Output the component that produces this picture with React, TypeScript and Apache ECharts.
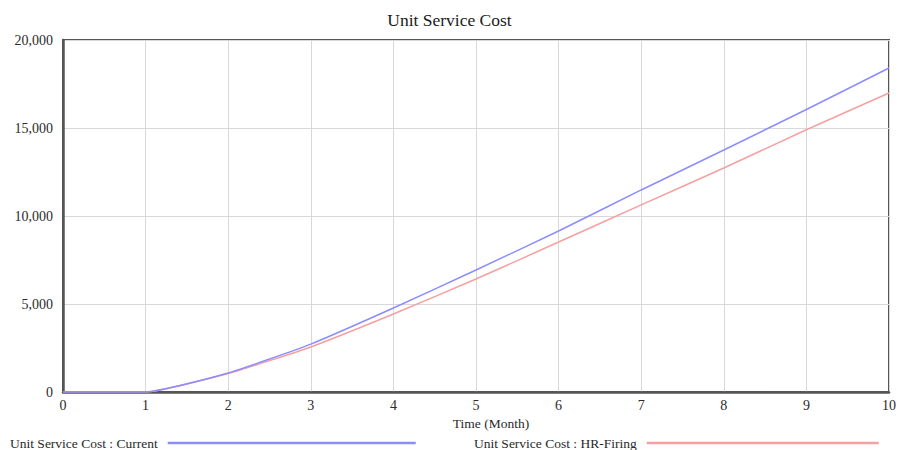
import React, { useEffect, useRef } from "react";
import * as echarts from "echarts";

const months = [0, 1, 2, 3, 4, 5, 6, 7, 8, 9, 10];
const currentCost = [0, 0, 1080, 2720, 4770, 6930, 9150, 11480, 13750, 16050, 18410];
const hrFiringCost = [0, 0, 1050, 2560, 4430, 6420, 8520, 10630, 12730, 14900, 16990];
const yTicks = [0, 5000, 10000, 15000, 20000];

const SERIF = "'Liberation Serif', 'DejaVu Serif', serif";

export default function App() {
  const ref = useRef<HTMLDivElement>(null);
  useEffect(() => {
    if (!ref.current) return;
    const chart = echarts.init(ref.current, undefined, { renderer: "svg" });
    const legendText = { fontFamily: SERIF, fontSize: 13.5, color: "#2a2a2a", padding: [0, 5, 0, 0] };
    chart.setOption({
      animation: false,
      backgroundColor: "#ffffff",
      title: {
        text: "Unit Service Cost",
        left: "center",
        top: 6,
        textStyle: { fontFamily: SERIF, fontSize: 17.5, fontWeight: "normal", color: "#1a1a1a" },
      },
      legend: [
        {
          data: ["Unit Service Cost : Current"],
          left: 5,
          top: 431,
          align: "right",
          itemWidth: 248,
          itemHeight: 10,
          icon: "path://M0,4.5 L100,4.5 L100,5.5 L0,5.5 Z",
          textStyle: legendText,
        },
        {
          data: ["Unit Service Cost : HR-Firing"],
          left: 469,
          top: 431,
          align: "right",
          itemWidth: 232,
          itemHeight: 10,
          icon: "path://M0,4.5 L100,4.5 L100,5.5 L0,5.5 Z",
          textStyle: legendText,
        },
      ],
      grid: {
        left: 63,
        right: 7,
        top: 40,
        bottom: 58,
        show: true,
        borderColor: "#555",
        borderWidth: 2,
      },
      xAxis: {
        type: "value",
        min: 0,
        max: 10,
        interval: 1,
        name: "Time (Month)",
        nameLocation: "middle",
        nameGap: 23,
        nameTextStyle: { fontFamily: SERIF, fontSize: 13.5, color: "#2a2a2a", padding: [0, 0, 0, 30] },
        axisLine: { show: true, lineStyle: { color: "#555", width: 2.5 } },
        axisTick: { show: false },
        axisLabel: { fontFamily: SERIF, fontSize: 14, color: "#2a2a2a", margin: 6 },
        splitLine: { show: true, lineStyle: { color: "#d8d8d8", width: 1 } },
      },
      yAxis: {
        type: "value",
        min: yTicks[0],
        max: yTicks[yTicks.length - 1],
        interval: 5000,
        axisLine: { show: true, lineStyle: { color: "#555", width: 2.5 } },
        axisTick: { show: false },
        axisLabel: {
          fontFamily: SERIF,
          fontSize: 14,
          color: "#2a2a2a",
          margin: 10,
          formatter: (v: number) => v.toLocaleString("en-US"),
        },
        splitLine: { show: true, lineStyle: { color: "#d8d8d8", width: 1 } },
      },
      series: [
        {
          name: "Unit Service Cost : Current",
          type: "line",
          data: months.map((m, i) => [m, currentCost[i]]),
          showSymbol: false,
          smooth: 0.15,
          lineStyle: { color: "#8c8cff", width: 1.5 },
          itemStyle: { color: "#8c8cff" },
          z: 3,
        },
        {
          name: "Unit Service Cost : HR-Firing",
          type: "line",
          data: months.map((m, i) => [m, hrFiringCost[i]]),
          showSymbol: false,
          smooth: 0.15,
          lineStyle: { color: "#f5a0a0", width: 1.5 },
          itemStyle: { color: "#f5a0a0" },
          z: 2,
        },
      ],
    });
    return () => chart.dispose();
  }, []);
  return <div ref={ref} style={{ width: 899, height: 450, position: "absolute", left: 0, top: 0 }} />;
}
